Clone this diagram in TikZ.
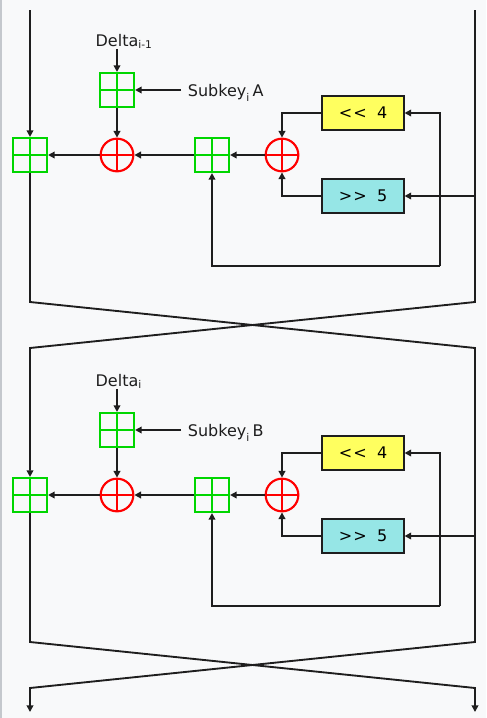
\documentclass[tikz,border=0pt]{standalone}
\usepackage{fontspec}
\setmainfont{DejaVu Sans}
\usetikzlibrary{arrows.meta}
\definecolor{bg}{RGB}{248,249,250}
\definecolor{edge}{RGB}{196,200,205}
\definecolor{ink}{RGB}{30,30,30}
\definecolor{addg}{RGB}{0,214,0}
\definecolor{xorr}{RGB}{255,0,0}
\definecolor{shl}{RGB}{255,255,95}
\definecolor{shr}{RGB}{150,230,230}

\begin{document}
\begin{tikzpicture}[
  x=0.75pt, y=-0.75pt,
  adder/.style={draw=addg, line width=1.6pt, minimum size=25.5pt, inner sep=0pt,
    path picture={\draw[addg, line width=1.6pt]
      (path picture bounding box.north) -- (path picture bounding box.south)
      (path picture bounding box.west) -- (path picture bounding box.east);}},
  xor/.style={circle, draw=xorr, line width=1.6pt, minimum size=24.5pt, inner sep=0pt,
    path picture={\draw[xorr, line width=1.6pt]
      (path picture bounding box.north) -- (path picture bounding box.south)
      (path picture bounding box.west) -- (path picture bounding box.east);}},
  rotbox/.style={draw=ink, line width=1.3pt, minimum width=61pt, minimum height=26pt,
                 inner sep=0pt, font=\fontsize{12}{14}\selectfont},
  lbl/.style={font=\fontsize{12}{14}\selectfont, text=ink, inner sep=0pt},
  ar/.style={-{Triangle[length=5pt,width=5pt]}, ink, line width=1.4pt},
]

\useasboundingbox (0,0) rectangle (486,718);
\fill[bg] (0,0) rectangle (486,718);
\fill[edge] (0,0) rectangle (2,718);

% ---- two feistel rounds ----
\foreach \r/\oy/\dsub/\sk in {1/0/{i-1}/A, 2/340/i/B}{
  \begin{scope}[shift={(0,\oy)}]
    \node[adder] (addL\r) at (30,155) {};
    \node[adder] (addT\r) at (117,90) {};
    \node[xor]   (xorL\r) at (117,155) {};
    \node[adder] (addM\r) at (212,155) {};
    \node[xor]   (xorR\r) at (282,155) {};
    \node[rotbox, fill=shl] (sl\r) at (363,113) {<\kern1pt<\ \ 4};
    \node[rotbox, fill=shr] (sr\r) at (363,196) {>\kern1pt>\ \ 5};

    \node[lbl, anchor=base] (dl\r) at (117,46) {Delta\rlap{\textsubscript{\dsub}}};
    \node[lbl, anchor=base west, inner xsep=5pt] (sk\r) at (181,96)
          {Subkey\raisebox{-2pt}{\textsubscript{i}}\,\sk};

    \coordinate (br\r) at (475,196);
    \coordinate (lp\r) at (440,266);

    \draw[ar] (dl\r) -- (addT\r.north);
    \draw[ar] (sk\r.west |- addT\r.east) -- (addT\r.east);
    \draw[ar] (addT\r.south) -- (xorL\r.north);
    \draw[ar] (xorL\r.west) -- (addL\r.east);
    \draw[ar] (addM\r.west) -- (xorL\r.east);
    \draw[ar] (xorR\r.west) -- (addM\r.east);
    \draw[ar] (sl\r.west) -| (xorR\r.north);
    \draw[ar] (sr\r.west) -| (xorR\r.south);
    \draw[ar] (br\r) -- (sr\r.east);
    \draw[ar] (lp\r) |- (sl\r.east);
    \draw[ar] (lp\r) -| (addM\r.south);
  \end{scope}
}

% ---- halves and swaps ----
\coordinate (tl) at (30,10);
\coordinate (tr) at (475,10);
\coordinate (ol) at (30,712);
\coordinate (or) at (475,712);

\draw[ar] (tl) -- (addL1.north);
\draw[ar] (tr) -- (475,302) -- (30,348) -- (addL2.north);
\draw[ar] (addL1.south) -- (30,302) -- (475,348) -- (475,642) -- (30,688) -- (ol);
\draw[ar] (addL2.south) -- (30,642) -- (475,688) -- (or);

\end{tikzpicture}
\end{document}
